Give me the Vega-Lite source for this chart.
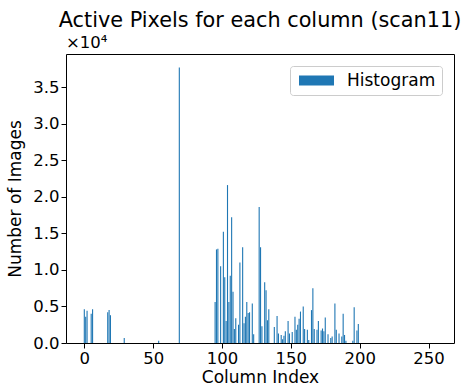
{
  "$schema": "https://vega.github.io/schema/vega-lite/v6.json",
  "width": 388,
  "height": 289,
  "autosize": "none",
  "padding": {"left": 66, "top": 54, "right": 10, "bottom": 47},
  "title": {"text": "Active Pixels for each column (scan11)", "font": "DejaVu Sans", "fontSize": 20.8, "fontWeight": "normal", "color": "#000", "anchor": "middle", "offset": 3},
  "config": {
    "view": {"stroke": "#000", "strokeWidth": 1},
    "axis": {"domain": false, "grid": false, "tickColor": "#000", "tickSize": 5, "labelFont": "DejaVu Sans", "labelFontSize": 16.5, "labelColor": "#000", "titleFont": "DejaVu Sans", "titleFontSize": 17, "titleFontWeight": "normal", "titleColor": "#000"},
    "legend": {"orient": "top-right", "offset": 12, "padding": 6, "strokeColor": "#cccccc", "fillColor": "#ffffff", "cornerRadius": 3, "labelFont": "DejaVu Sans", "labelFontSize": 17, "labelColor": "#000", "symbolType": "M-2.333,-0.667h4.667v1.333h-4.667z", "symbolSize": 225, "symbolStrokeWidth": 0, "symbolOffset": 12, "labelOffset": 22, "title": null}
  },
  "data": {"values": [
    {"col": 0, "count": 4600}, {"col": 1, "count": 3600}, {"col": 2, "count": 4400},
    {"col": 5, "count": 4000}, {"col": 6, "count": 4600},
    {"col": 17, "count": 4200}, {"col": 18, "count": 4500}, {"col": 19, "count": 3800},
    {"col": 29, "count": 700}, {"col": 54, "count": 300}, {"col": 69, "count": 37700},
    {"col": 95, "count": 5600}, {"col": 96, "count": 12800}, {"col": 97, "count": 12900},
    {"col": 99, "count": 10500}, {"col": 101, "count": 15200}, {"col": 102, "count": 9000},
    {"col": 103, "count": 3000}, {"col": 104, "count": 21600}, {"col": 105, "count": 5600},
    {"col": 106, "count": 9200}, {"col": 107, "count": 17200}, {"col": 108, "count": 7000},
    {"col": 109, "count": 1900}, {"col": 110, "count": 3400}, {"col": 112, "count": 2500},
    {"col": 113, "count": 11000}, {"col": 115, "count": 13100}, {"col": 116, "count": 2700},
    {"col": 117, "count": 3600}, {"col": 118, "count": 5600}, {"col": 119, "count": 4100},
    {"col": 120, "count": 4200}, {"col": 122, "count": 5400}, {"col": 123, "count": 1200},
    {"col": 127, "count": 18600}, {"col": 128, "count": 13100}, {"col": 129, "count": 2300},
    {"col": 131, "count": 8300}, {"col": 132, "count": 7200}, {"col": 133, "count": 3100},
    {"col": 134, "count": 4600}, {"col": 138, "count": 2200}, {"col": 140, "count": 3700},
    {"col": 141, "count": 1300}, {"col": 143, "count": 1100}, {"col": 144, "count": 500},
    {"col": 145, "count": 1000}, {"col": 146, "count": 1600}, {"col": 148, "count": 3000},
    {"col": 149, "count": 1300}, {"col": 151, "count": 1500}, {"col": 153, "count": 3600},
    {"col": 154, "count": 1800}, {"col": 155, "count": 2500}, {"col": 156, "count": 3300},
    {"col": 157, "count": 4300}, {"col": 159, "count": 5000}, {"col": 160, "count": 1900},
    {"col": 162, "count": 1800}, {"col": 163, "count": 400}, {"col": 165, "count": 4500},
    {"col": 166, "count": 7500}, {"col": 167, "count": 1900}, {"col": 169, "count": 1800},
    {"col": 170, "count": 3000}, {"col": 172, "count": 1700}, {"col": 173, "count": 2000},
    {"col": 174, "count": 1600}, {"col": 175, "count": 3500}, {"col": 177, "count": 1200},
    {"col": 179, "count": 700}, {"col": 180, "count": 900}, {"col": 182, "count": 5400},
    {"col": 183, "count": 1800}, {"col": 185, "count": 1300}, {"col": 187, "count": 900},
    {"col": 188, "count": 4000}, {"col": 189, "count": 1100}, {"col": 190, "count": 300},
    {"col": 195, "count": 300}, {"col": 196, "count": 4900}, {"col": 198, "count": 1700},
    {"col": 199, "count": 2600}
  ]},
  "layer": [
    {
      "mark": {"type": "bar", "width": 1.1, "clip": true},
      "encoding": {
        "x": {"field": "col", "type": "quantitative", "scale": {"domain": [-13.3, 268.5], "nice": false, "zero": false, "padding": 0},
              "axis": {"values": [0, 50, 100, 150, 200, 250], "title": "Column Index", "titlePadding": 3}},
        "y": {"field": "count", "type": "quantitative", "scale": {"domain": [0, 39530], "nice": false},
              "axis": {"values": [0, 5000, 10000, 15000, 20000, 25000, 30000, 35000], "labelExpr": "format(datum.value / 10000, '.1f')", "title": "Number of Images", "titlePadding": 8}},
        "color": {"datum": "Histogram", "type": "nominal", "scale": {"range": ["#1f77b4"]}}
      }
    },
    {
      "data": {"values": [{"label": "×10⁴"}]},
      "mark": {"type": "text", "align": "left", "baseline": "bottom", "dy": -3, "font": "DejaVu Sans", "fontSize": 16.5, "color": "#000"},
      "encoding": {
        "x": {"datum": -13.3, "type": "quantitative"},
        "y": {"datum": 39530, "type": "quantitative"},
        "text": {"field": "label", "type": "nominal"}
      }
    }
  ]
}
